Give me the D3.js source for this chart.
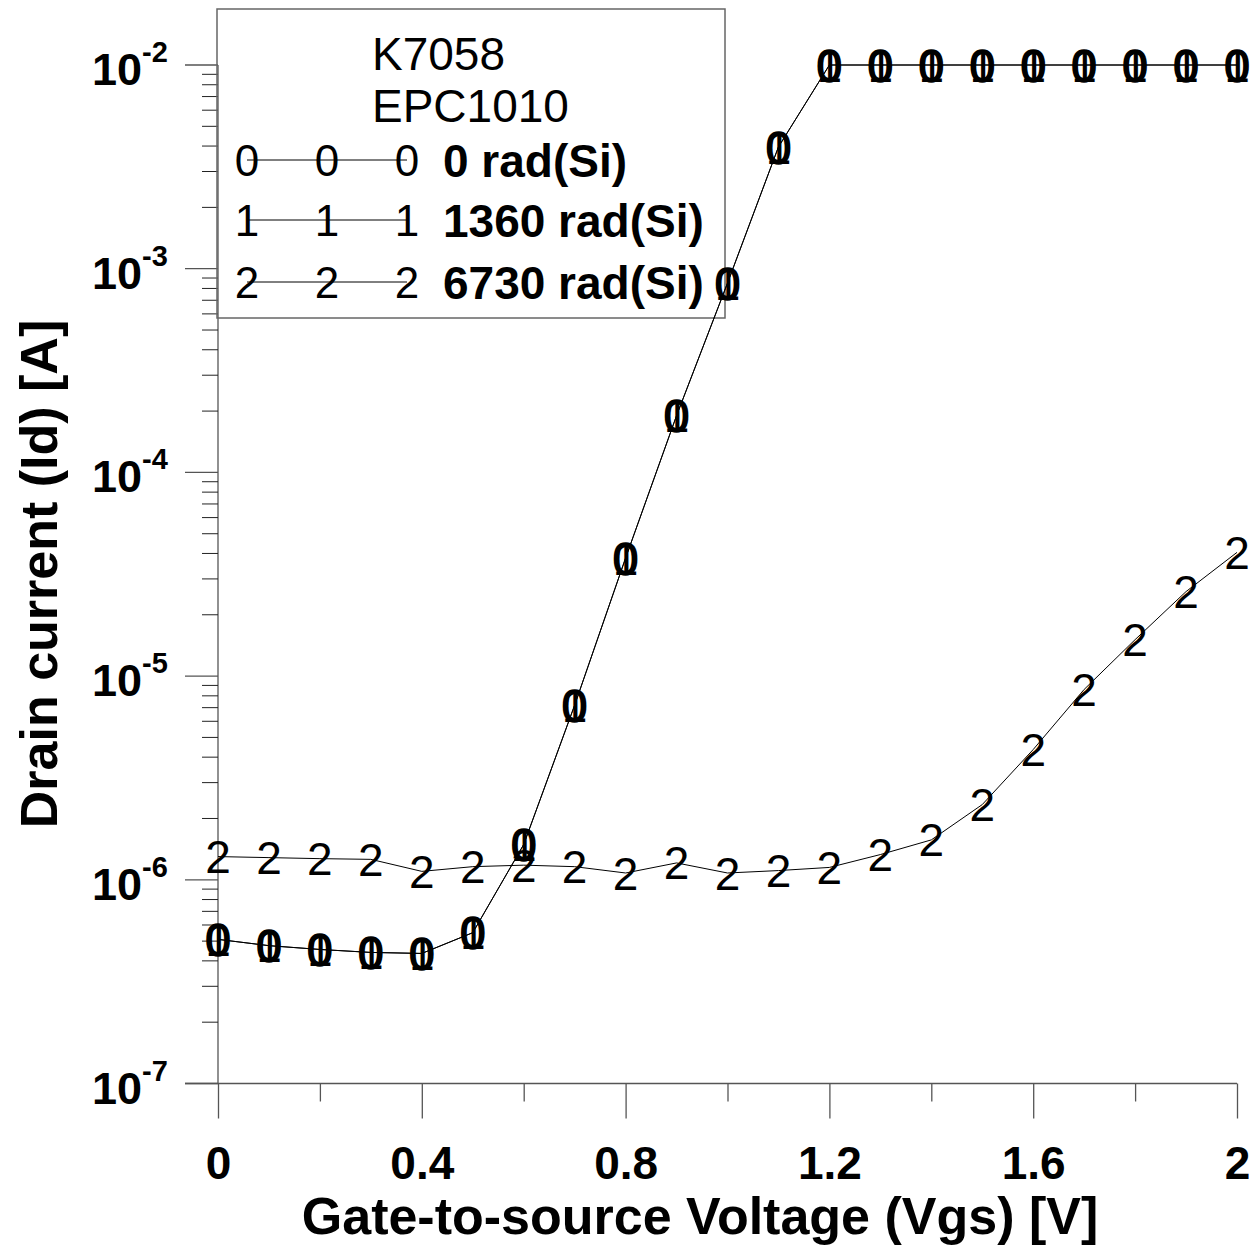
<!DOCTYPE html>
<html>
<head>
<meta charset="utf-8">
<script src="https://cdn.jsdelivr.net/npm/d3@7"></script>
<style>
  body { margin: 0; background: #fff; }
  text { font-family: "Liberation Sans", Arial, sans-serif; }
</style>
</head>
<body>
<div id="chart"></div>
<script>
let W = 1259;
let H = 1249;

// gate voltage steps [V]
const vgs = [0, 0.1, 0.2, 0.3, 0.4, 0.5, 0.6, 0.7, 0.8, 0.9, 1.0,
             1.1, 1.2, 1.3, 1.4, 1.5, 1.6, 1.7, 1.8, 1.9, 2.0];

// drain current [A]
const id0 = [5.1e-7, 4.75e-7, 4.55e-7, 4.4e-7, 4.35e-7, 5.5e-7, 1.49e-6, 7.2e-6, 3.8e-5, 1.9e-4, 8.5e-4,
             3.96e-3, 1e-2, 1e-2, 1e-2, 1e-2, 1e-2, 1e-2, 1e-2, 1e-2, 1e-2];
const id1 = [5.1e-7, 4.75e-7, 4.55e-7, 4.4e-7, 4.35e-7, 5.5e-7, 1.49e-6, 7.2e-6, 3.8e-5, 1.9e-4, 8.5e-4,
             3.96e-3, 1e-2, 1e-2, 1e-2, 1e-2, 1e-2, 1e-2, 1e-2, 1e-2, 1e-2];
const id2 = [1.3e-6, 1.285e-6, 1.27e-6, 1.26e-6, 1.1e-6, 1.16e-6, 1.18e-6, 1.16e-6, 1.08e-6, 1.21e-6, 1.08e-6,
             1.11e-6, 1.15e-6, 1.33e-6, 1.57e-6, 2.34e-6, 4.36e-6, 8.6e-6, 1.51e-5, 2.6e-5, 4.05e-5];

const seriesNames = ["0 rad(Si)", "1360 rad(Si)", "6730 rad(Si)"];
const seriesSymbols = ["0", "1", "2"];
const legendTitle = ["K7058", "EPC1010"];

const xMajor = [0, 0.4, 0.8, 1.2, 1.6, 2];
const xMinor = [0.2, 0.6, 1.0, 1.4, 1.8];
const xLabels = ["0", "0.4", "0.8", "1.2", "1.6", "2"];
const yExponents = [-7, -6, -5, -4, -3, -2];

const axisColor = "#555";

var svg = d3.select("#chart")
  .append("svg")
    .attr("width", W)
    .attr("height", H);

var x = d3.scaleLinear().domain([0, 2]).range([218, 1237]);
var y = d3.scaleLog().domain([1e-7, 1e-2]).range([1083.5, 65]);

// x axis: major ticks long, minor short
var xAxis = d3.axisBottom(x)
  .tickValues(xMajor)
  .tickSize(35)
  .tickFormat((d, i) => xLabels[i]);
var gx = svg.append("g")
  .attr("transform", "translate(0," + y(1e-7) + ")")
  .call(xAxis);
gx.select(".domain").remove();
gx.selectAll(".tick line").attr("stroke", axisColor).attr("stroke-width", 1.3);
gx.selectAll(".tick text")
  .attr("y", 95)
  .attr("dy", 0)
  .attr("fill", "#000")
  .style("font-size", "46px")
  .style("font-weight", "bold");

svg.append("g")
  .attr("transform", "translate(0," + y(1e-7) + ")")
  .call(d3.axisBottom(x).tickValues(xMinor).tickSize(18).tickFormat(""))
  .call(g => g.select(".domain").remove())
  .selectAll("line").attr("stroke", axisColor).attr("stroke-width", 1.3);

// axis lines
svg.append("line")
  .attr("x1", 185).attr("x2", x(2))
  .attr("y1", y(1e-7)).attr("y2", y(1e-7))
  .attr("stroke", axisColor).attr("stroke-width", 1.3);
svg.append("line")
  .attr("x1", x(0)).attr("x2", x(0))
  .attr("y1", y(1e-7)).attr("y2", y(1e-2))
  .attr("stroke", axisColor).attr("stroke-width", 1.3);

// y axis ticks: decades long, 2..9 short
var minorY = [];
yExponents.slice(0, -1).forEach(e => {
  for (let m = 2; m <= 9; m++) minorY.push(m * Math.pow(10, e));
});
svg.append("g")
  .selectAll("line.major")
  .data(yExponents)
  .join("line")
    .attr("x1", 185).attr("x2", x(0))
    .attr("y1", d => y(Math.pow(10, d))).attr("y2", d => y(Math.pow(10, d)))
    .attr("stroke", axisColor).attr("stroke-width", 1.3);
svg.append("g")
  .selectAll("line")
  .data(minorY)
  .join("line")
    .attr("x1", 202).attr("x2", x(0))
    .attr("y1", d => y(d)).attr("y2", d => y(d))
    .attr("stroke", "#222").attr("stroke-width", 1);

// y tick labels 10^n
var ylab = svg.append("g")
  .selectAll("text")
  .data(yExponents)
  .join("text")
    .attr("x", 92)
    .attr("y", d => y(Math.pow(10, d)) + 20)
    .style("font-weight", "bold");
ylab.append("tspan").style("font-size", "45px").text("10");
ylab.append("tspan")
  .style("font-size", "29px")
  .attr("dy", -23)
  .text(d => d);

// axis titles
svg.append("text")
  .attr("x", 700).attr("y", 1234)
  .attr("text-anchor", "middle")
  .style("font-size", "52px").style("font-weight", "bold")
  .text("Gate-to-source Voltage (Vgs) [V]");
svg.append("text")
  .attr("transform", "translate(57,574) rotate(-90)")
  .attr("text-anchor", "middle")
  .style("font-size", "52px").style("font-weight", "bold")
  .text("Drain current (Id) [A]");

// legend box
svg.append("rect")
  .attr("x", 217).attr("y", 9)
  .attr("width", 508).attr("height", 309)
  .attr("fill", "none")
  .attr("stroke", "#666").attr("stroke-width", 1.5);
svg.selectAll("text.ltitle")
  .data(legendTitle)
  .join("text")
    .attr("class", "ltitle")
    .attr("x", 372)
    .attr("y", (d, i) => 70 + i * 52)
    .style("font-size", "46px")
    .text(d => d);

var rowY = [160, 220, 282];
var leg = svg.append("g");
seriesNames.forEach((name, i) => {
  leg.append("line")
    .attr("x1", 247).attr("x2", 407)
    .attr("y1", rowY[i]).attr("y2", rowY[i])
    .attr("stroke", "#000").attr("stroke-width", 1);
  leg.selectAll("text.sym" + i)
    .data([247, 327, 407])
    .join("text")
      .attr("x", d => d)
      .attr("y", rowY[i])
      .attr("dy", "0.36em")
      .attr("text-anchor", "middle")
      .style("font-size", "44px")
      .text(seriesSymbols[i]);
  leg.append("text")
    .attr("x", 443)
    .attr("y", rowY[i] + 17)
    .style("font-size", "46px").style("font-weight", "bold")
    .text(name);
});

// data: line plus digit symbols
var line = d3.line()
  .x((d, i) => x(vgs[i]))
  .y(d => y(d));

[id0, id1, id2].forEach((vals, s) => {
  svg.append("path")
    .datum(vals)
    .attr("fill", "none")
    .attr("stroke", "#000")
    .attr("stroke-width", 1)
    .attr("d", line);
});

[id0, id1, id2].forEach((vals, s) => {
  svg.append("g")
    .selectAll("text")
    .data(vals)
    .join("text")
      .attr("x", (d, i) => x(vgs[i]))
      .attr("y", d => y(d))
      .attr("dy", "0.36em")
      .attr("text-anchor", "middle")
      .attr("stroke", s == 0 ? "#000" : "none")
      .attr("stroke-width", s == 0 ? 1.6 : 0)
      .style("font-size", "46px")
      .text(seriesSymbols[s]);
});
</script>
</body>
</html>
